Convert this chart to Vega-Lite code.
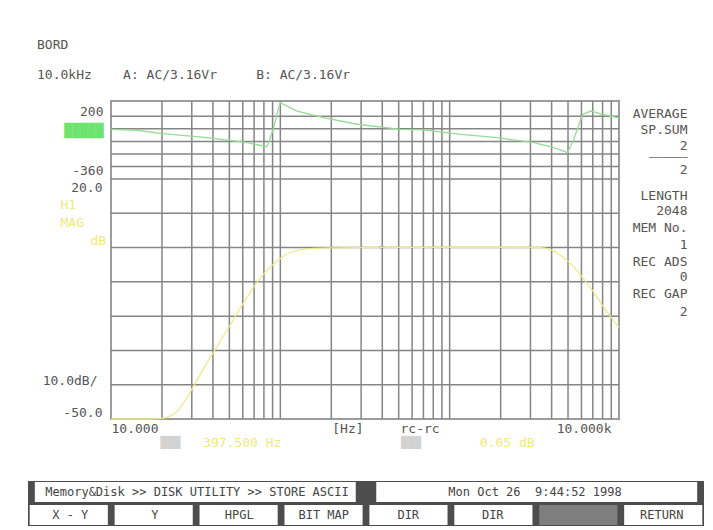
{
  "$schema": "https://vega.github.io/schema/vega-lite/v6.json",
  "padding": {"left": 28, "top": 38, "right": 0, "bottom": 0},
  "background": "white",
  "columns": 1,
  "align": "none",
  "bounds": "full",
  "spacing": 31,
  "config": {
    "font": "DejaVu Sans Mono",
    "axis": {"labelFont": "DejaVu Sans Mono", "labelFontSize": 13, "labelColor": "#555555", "ticks": false, "domain": false, "grid": false, "labelOverlap": false, "labelBound": false, "labelFlush": false},
    "title": {"font": "DejaVu Sans Mono", "fontSize": 13, "fontWeight": "normal", "color": "#555555", "subtitleFont": "DejaVu Sans Mono", "subtitleFontSize": 13, "subtitleColor": "#555555"}
  },
  "datasets": {
    "vgrid": [{"f":20},{"f":30},{"f":40},{"f":50},{"f":60},{"f":70},{"f":80},{"f":90},{"f":100},{"f":200},{"f":300},{"f":400},{"f":500},{"f":600},{"f":700},{"f":800},{"f":900},{"f":1000},{"f":2000},{"f":3000},{"f":4000},{"f":5000},{"f":6000},{"f":7000},{"f":8000},{"f":9000}],
    "hgridMag": [{"db":-40},{"db":-30},{"db":-20},{"db":-10},{"db":0},{"db":10},{"db":20}],
    "hgridPhase": [{"deg":90},{"deg":0},{"deg":-90},{"deg":-180},{"deg":-270}],
    "mag": [{"f":10,"db":-50},{"f":17,"db":-50},{"f":20,"db":-49.8},{"f":22.6,"db":-49},{"f":24.9,"db":-47.5},{"f":27.1,"db":-45},{"f":30.3,"db":-41},{"f":35.5,"db":-35},{"f":42.4,"db":-28.8},{"f":50.6,"db":-22.5},{"f":60.4,"db":-16.3},{"f":73.1,"db":-10},{"f":84.9,"db":-6.3},{"f":98.7,"db":-3.4},{"f":108,"db":-2.1},{"f":122.8,"db":-1},{"f":150.6,"db":-0.3},{"f":200,"db":-0.1},{"f":397.5,"db":0.05},{"f":1000,"db":0.1},{"f":2000,"db":0.1},{"f":3452,"db":0},{"f":4063,"db":-0.9},{"f":4664,"db":-2.75},{"f":5347,"db":-5.4},{"f":6126,"db":-8.9},{"f":7021,"db":-12.7},{"f":8041,"db":-17.1},{"f":8970,"db":-20.3},{"f":10000,"db":-23.3}],
    "phase": [{"f":10,"deg":-3},{"f":14.25,"deg":-10},{"f":19.5,"deg":-32},{"f":37,"deg":-63},{"f":52.7,"deg":-87},{"f":63.8,"deg":-99},{"f":83.4,"deg":-128},{"f":90.9,"deg":-1},{"f":97.3,"deg":143},{"f":100,"deg":188},{"f":125.6,"deg":128},{"f":179.6,"deg":80},{"f":284.2,"deg":33},{"f":513,"deg":-3},{"f":701.6,"deg":-8},{"f":1161,"deg":-39},{"f":1915,"deg":-63},{"f":3142,"deg":-99},{"f":4125,"deg":-135},{"f":4967,"deg":-171},{"f":5415,"deg":-73},{"f":6097,"deg":104},{"f":6825,"deg":128},{"f":7819,"deg":107},{"f":10000,"deg":78}],
    "marker": [{"f":397.5,"db":0.05}],
    "menu": [{"part":"menu bar"}],
    "status": [{"row":"status","id":"s1","label":"Memory&Disk >> DISK UTILITY >> STORE ASCII"},{"row":"status","id":"s2","label":"Mon Oct 26\u00a0\u00a09:44:52 1998"}],
    "buttons": [{"row":"buttons","id":"b1","label":"X - Y"},{"row":"buttons","id":"b2","label":"Y"},{"row":"buttons","id":"b3","label":"HPGL"},{"row":"buttons","id":"b4","label":"BIT MAP"},{"row":"buttons","id":"b5","label":"DIR"},{"row":"buttons","id":"b6","label":"DIR"},{"row":"buttons","id":"b7","label":""},{"row":"buttons","id":"b8","label":"RETURN"}]
  },
  "concat": [
    {
      "width": 508,
      "height": 318,
      "title": {"text": "BORD", "subtitle": "10.0kHz\u00a0\u00a0\u00a0\u00a0A:\u00a0AC/3.16Vr\u00a0\u00a0\u00a0\u00a0\u00a0B:\u00a0AC/3.16Vr", "anchor": "start", "frame": "group", "dx": -74, "offset": 18, "subtitlePadding": 17},
      "view": {"stroke": "#9c9c9c", "strokeWidth": 2},
      "resolve": {"scale": {"y": "independent"}},
      "layer": [
        {
          "data": {"name": "vgrid"},
          "mark": {"type": "rule", "color": "#858585", "strokeWidth": 1.5},
          "encoding": {"x": {"field": "f", "type": "quantitative", "scale": {"type": "log", "domain": [10, 10000], "nice": false},
              "axis": {"title": null,
                "values": [10, 249, 664, 10000, 22.3, 59.2, 587, 2173],
                "labelExpr": "['10.000','[Hz]','rc-rc','10.000k','███','397.500 Hz','███','0.05 dB'][indexof([10,249,664,10000,22.3,59.2,587,2173], datum.value)]",
                "labelBaseline": "top",
                "labelAlign": {"condition": [{"test": "datum.value == 10", "value": "left"}, {"test": "datum.value == 10000", "value": "right"}], "value": "center"},
                "labelOffset": {"condition": {"test": "datum.value == 10000", "value": -8}, "value": 0},
                "labelPadding": {"condition": {"test": "indexof([22.3,59.2,587,2173], datum.value) >= 0", "value": 17}, "value": 3},
                "labelFontSize": {"condition": {"test": "datum.value == 22.3 || datum.value == 587", "value": 11}, "value": 13},
                "labelColor": {"condition": [{"test": "datum.value == 59.2 || datum.value == 2173", "value": "#efe97a"}, {"test": "datum.value == 22.3 || datum.value == 587", "value": "#d2d2d2"}], "value": "#555555"}}}}
        },
        {
          "data": {"name": "hgridMag"},
          "mark": {"type": "rule", "color": "#858585", "strokeWidth": 1.5},
          "encoding": {"y": {"field": "db", "type": "quantitative", "scale": {"domain": [-50, 42.75], "nice": false, "zero": false}, "axis": null}}
        },
        {
          "data": {"name": "hgridPhase"},
          "mark": {"type": "rule", "color": "#858585", "strokeWidth": 1.5},
          "encoding": {"y": {"field": "deg", "type": "quantitative", "scale": {"domain": [-2083.1, 200], "nice": false, "zero": false}, "axis": null}}
        },
        {
          "data": {"name": "phase"},
          "mark": {"type": "line", "color": "#96dc96", "strokeWidth": 1.3},
          "encoding": {
            "x": {"field": "f", "type": "quantitative", "scale": {"type": "log", "domain": [10, 10000], "nice": false}},
            "y": {"field": "deg", "type": "quantitative", "scale": {"domain": [-2083.1, 200], "nice": false, "zero": false},
              "axis": {"orient": "left", "title": null, "values": [200, 0, -360],
                "labelExpr": "datum.value == 200 ? '200' : datum.value == 0 ? '█████' : '-360'",
                "labelPadding": 8,
                "labelBaseline": {"condition": [{"test": "datum.value == 200", "value": "top"}, {"test": "datum.value == 0", "value": "middle"}], "value": "bottom"},
                "labelOffset": {"condition": [{"test": "datum.value == 200", "value": 4}, {"test": "datum.value == 0", "value": 2}], "value": -1},
                "labelColor": {"condition": {"test": "datum.value == 0", "value": "#6fe36f"}, "value": "#555555"}}}
          }
        },
        {
          "data": {"name": "mag"},
          "mark": {"type": "line", "color": "#efe98a", "strokeWidth": 1.3, "interpolate": "monotone"},
          "encoding": {
            "x": {"field": "f", "type": "quantitative", "scale": {"type": "log", "domain": [10, 10000], "nice": false}},
            "y": {"field": "db", "type": "quantitative", "scale": {"domain": [-50, 42.75], "nice": false, "zero": false},
              "axis": {"orient": "left", "values": [20, -40, -50],
                "labelExpr": "datum.value == 20 ? '20.0' : datum.value == -40 ? '10.0dB/' : '-50.0'",
                "labelBaseline": {"condition": [{"test": "datum.value == 20", "value": "top"}, {"test": "datum.value == -40", "value": "middle"}], "value": "bottom"},
                "labelOffset": {"condition": [{"test": "datum.value == 20", "value": 2}, {"test": "datum.value == -40", "value": -4}], "value": 0},
                "labelPadding": {"condition": {"test": "datum.value == -40", "value": 14}, "value": 9},
                "title": ["H1", "MAG", "\u2800\u2800\u2800dB"],
                "titleX": -51, "titleY": 97, "titleAngle": 0, "titleAlign": "left", "titleBaseline": "top", "titleLineHeight": 18,
                "titleColor": "#efe97a", "titleFont": "DejaVu Sans Mono", "titleFontSize": 13, "titleFontWeight": "normal"}}
          }
        },
        {
          "data": {"name": "marker"},
          "mark": {"type": "point", "shape": "diamond", "size": 25, "filled": false, "color": "#b0b0b0", "strokeWidth": 1},
          "encoding": {
            "x": {"field": "f", "type": "quantitative", "scale": {"type": "log", "domain": [10, 10000], "nice": false}},
            "y": {"field": "db", "type": "quantitative", "scale": {"domain": [-50, 42.75], "nice": false, "zero": false},
              "axis": {"orient": "right", "title": null,
                "values": [39.25, 34.58, 29.63, 26.3, 22.9, 15.33, 10.67, 5.71, 1.04, -3.92, -8.58, -13.25, -18.5],
                "labelExpr": "['AVERAGE','SP.SUM','2','────────','2','LENGTH','2048','MEM No.','1','REC ADS','0','REC GAP','2'][indexof([39.25,34.58,29.63,26.3,22.9,15.33,10.67,5.71,1.04,-3.92,-8.58,-13.25,-18.5], datum.value)]",
                "labelFontSize": {"condition": {"test": "datum.value == 26.3", "value": 8}, "value": 13},
                "labelAlign": "right", "labelBaseline": "middle", "labelPadding": 68}}
          }
        }
      ]
    },
    {
      "width": 593,
      "height": 45,
      "view": {"stroke": null},
      "resolve": {"scale": {"x": "independent"}},
      "layer": [
        {
          "data": {"name": "menu"},
          "mark": {"type": "bar", "color": "#4d4d4d"},
          "encoding": {
            "x": {"field": "part", "type": "nominal", "axis": null, "scale": {"range": [-83, 593], "paddingInner": 0, "paddingOuter": 0}}
          }
        },
        {
          "data": {"name": "status"},
          "mark": {"type": "bar", "color": "white"},
          "encoding": {
            "x": {"field": "id", "type": "nominal", "axis": null, "scale": {"range": [-83, 593], "paddingInner": 0.06, "paddingOuter": 0.02}},
            "y": {"field": "row", "type": "nominal", "axis": null, "scale": {"domain": ["status", "buttons"], "paddingInner": 0.12, "paddingOuter": 0.04}}
          }
        },
        {
          "data": {"name": "status"},
          "mark": {"type": "text", "fontSize": 12, "color": "#444444"},
          "encoding": {
            "x": {"field": "id", "type": "nominal", "axis": null, "scale": {"range": [-83, 593], "paddingInner": 0.06, "paddingOuter": 0.02}},
            "y": {"field": "row", "type": "nominal", "axis": null, "scale": {"domain": ["status", "buttons"], "paddingInner": 0.12, "paddingOuter": 0.04}},
            "text": {"field": "label"}
          }
        },
        {
          "data": {"name": "buttons"},
          "mark": {"type": "bar"},
          "encoding": {
            "x": {"field": "id", "type": "nominal", "axis": null, "scale": {"range": [-83, 593], "paddingInner": 0.08, "paddingOuter": 0.02}},
            "y": {"field": "row", "type": "nominal", "axis": null, "scale": {"domain": ["status", "buttons"], "paddingInner": 0.12, "paddingOuter": 0.04}},
            "color": {"condition": {"test": "datum.label == ''", "value": "#7e7e7e"}, "value": "white"}
          }
        },
        {
          "data": {"name": "buttons"},
          "mark": {"type": "text", "fontSize": 12, "color": "#444444"},
          "encoding": {
            "x": {"field": "id", "type": "nominal", "axis": null, "scale": {"range": [-83, 593], "paddingInner": 0.08, "paddingOuter": 0.02}},
            "y": {"field": "row", "type": "nominal", "axis": null, "scale": {"domain": ["status", "buttons"], "paddingInner": 0.12, "paddingOuter": 0.04}},
            "text": {"field": "label"}
          }
        }
      ]
    }
  ]
}
